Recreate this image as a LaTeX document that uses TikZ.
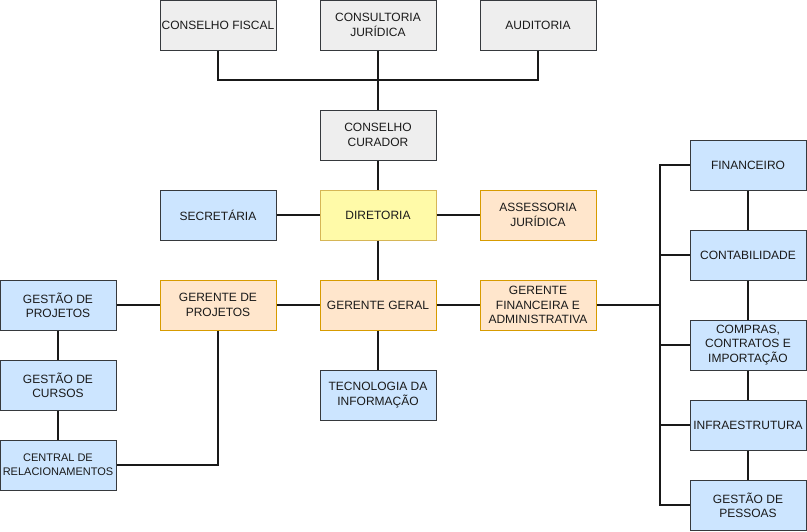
\documentclass[tikz,border=0pt]{standalone}
\usepackage{fontspec}
\setmainfont{Liberation Sans}
\definecolor{grayfill}{HTML}{EEEEEE}
\definecolor{darkstroke}{HTML}{36393D}
\definecolor{bluefill}{HTML}{CCE5FF}
\definecolor{orangefill}{HTML}{FFE6CC}
\definecolor{orangestroke}{HTML}{D79B00}
\definecolor{yellowfill}{HTML}{FFFAA8}
\definecolor{yellowstroke}{HTML}{D6B656}
\definecolor{txt}{HTML}{1A1A1A}
\begin{document}
\begin{tikzpicture}[x=1pt,y=-1pt,
  box/.style={rectangle, minimum width=116pt, minimum height=50pt, inner sep=0pt,
    align=center, text=txt, font=\fontsize{12}{14.4}\selectfont, line width=1pt},
  graybox/.style={box, fill=grayfill, draw=darkstroke},
  bluebox/.style={box, fill=bluefill, draw=darkstroke},
  orangebox/.style={box, fill=orangefill, draw=orangestroke},
  yellowbox/.style={box, fill=yellowfill, draw=yellowstroke},
  link/.style={draw=black!90, line width=2pt}]
\useasboundingbox (0,0) rectangle (807,531);
% top row
\node[graybox] (cf) at (218,25) {CONSELHO FISCAL};
\node[graybox] (cj) at (378,25) {CONSULTORIA\\JURÍDICA};
\node[graybox] (au) at (538,25) {AUDITORIA};
\node[graybox] (cc) at (378,135) {CONSELHO\\CURADOR};
% direction row
\node[bluebox] (sec) at (218,215) {SECRETÁRIA};
\node[yellowbox] (dir) at (378,215) {DIRETORIA};
\node[orangebox] (ass) at (538,215) {ASSESSORIA\\JURÍDICA};
% managers row
\node[orangebox] (gp) at (218,305) {GERENTE DE\\PROJETOS};
\node[orangebox] (gg) at (378,305) {GERENTE GERAL};
\node[orangebox] (gf) at (538,305) {GERENTE\\FINANCEIRA E\\ADMINISTRATIVA};
\node[bluebox] (ti) at (378,395) {TECNOLOGIA DA\\INFORMAÇÃO};
% left column
\node[bluebox] (gpr) at (58,305) {GESTÃO DE\\PROJETOS};
\node[bluebox] (gc) at (58,385) {GESTÃO DE\\CURSOS};
\node[bluebox, font=\fontsize{11}{14.4}\selectfont] (cr) at (58,465) {CENTRAL DE\\RELACIONAMENTOS};
% right column
\node[bluebox] (fin) at (748,165) {FINANCEIRO};
\node[bluebox] (cont) at (748,255) {CONTABILIDADE};
\node[bluebox] (comp) at (748,345) {COMPRAS,\\CONTRATOS E\\IMPORTAÇÃO};
\node[bluebox] (infra) at (748,425) {INFRAESTRUTURA};
\node[bluebox] (gpe) at (748,505) {GESTÃO DE\\PESSOAS};
% bus coordinates
\coordinate (tb) at (378,80);
\coordinate (rb) at (660,305);
% connectors
\draw[link] (cf.south) |- (tb) -| (au.south);
\draw[link] (cj.south) -- (cc.north);
\draw[link] (cc.south) -- (dir.north);
\draw[link] (sec.east) -- (dir.west);
\draw[link] (dir.east) -- (ass.west);
\draw[link] (dir.south) -- (gg.north);
\draw[link] (gp.east) -- (gg.west);
\draw[link] (gg.east) -- (gf.west);
\draw[link] (gg.south) -- (ti.north);
\draw[link] (gpr.east) -- (gp.west);
\draw[link] (gpr.south) -- (gc.north);
\draw[link] (gc.south) -- (cr.north);
\draw[link] (gp.south) |- (cr.east);
\draw[link] (gf.east) -- (rb);
\draw[link] (fin.west) -- (fin.west -| rb) -- (gpe.west -| rb) -- (gpe.west);
\draw[link] (cont.west) -- (cont.west -| rb);
\draw[link] (comp.west) -- (comp.west -| rb);
\draw[link] (infra.west) -- (infra.west -| rb);
\draw[link] (fin.south) -- (cont.north);
\draw[link] (cont.south) -- (comp.north);
\draw[link] (comp.south) -- (infra.north);
\draw[link] (infra.south) -- (gpe.north);
\end{tikzpicture}
\end{document}
